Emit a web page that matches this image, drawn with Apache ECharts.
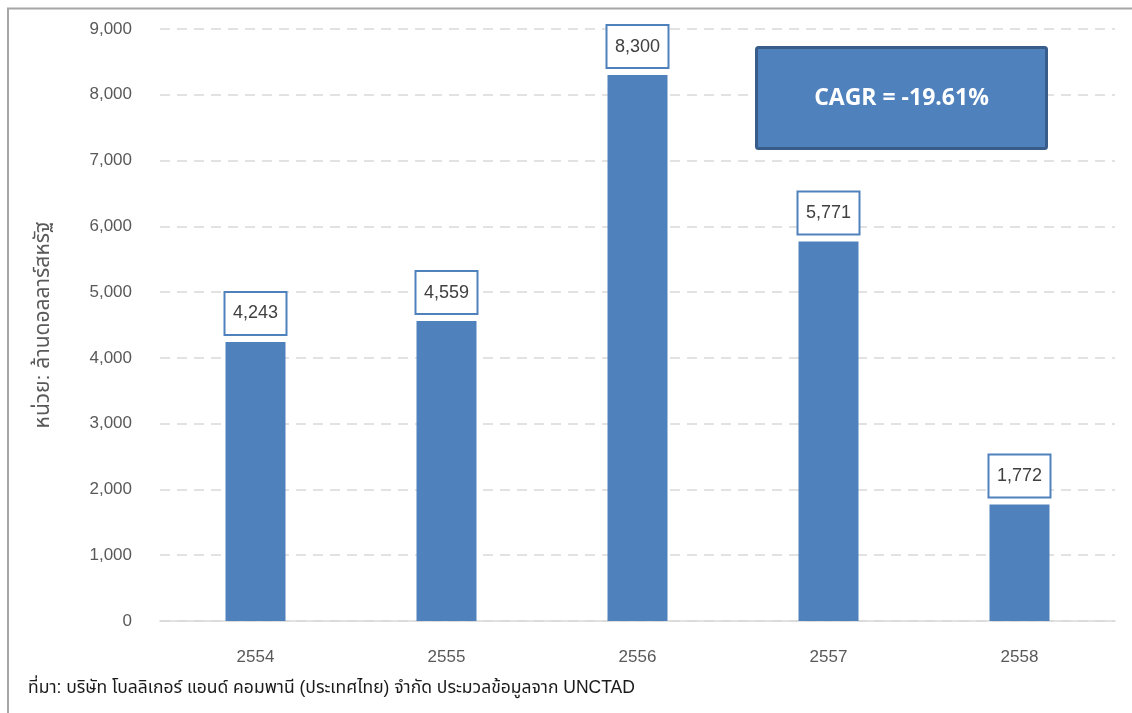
<!DOCTYPE html>
<html>
<head>
<meta charset="utf-8">
<script src="https://cdn.jsdelivr.net/npm/echarts@6/dist/echarts.min.js"></script>
<style>
  html, body { margin: 0; padding: 0; background: #fff; }
  #chart { width: 1132px; height: 713px; }
</style>
</head>
<body>
<div id="chart"></div>
<script>
// FDI values, million US dollars, Thai Buddhist-era years
const years = ['2554', '2555', '2556', '2557', '2558'];
const values = [4243, 4559, 8300, 5771, 1772];
const yTicks = { min: 0, max: 9000, interval: 1000 };
const axisTitle = 'หน่วย: ล้านดอลลาร์สหรัฐ';
const sourceNote = 'ที่มา: บริษัท โบลลิเกอร์ แอนด์ คอมพานี (ประเทศไทย) จำกัด ประมวลข้อมูลจาก UNCTAD';
const cagrText = 'CAGR = -19.61%';

const FONT = '"Liberation Sans", Arial, "Noto Sans Thai", "Noto Sans", sans-serif';
const chart = echarts.init(document.getElementById('chart'));

chart.setOption({
  backgroundColor: '#ffffff',
  animation: false,
  grid: { left: 160, right: 17, top: 29, bottom: 92, containLabel: false, outerBoundsMode: 'none' },
  xAxis: {
    type: 'category',
    data: years,
    axisTick: { show: false },
    axisLine: { lineStyle: { color: '#D9D9D9', width: 1.5 } },
    axisLabel: { color: '#595959', fontSize: 17, fontFamily: FONT, margin: 28 }
  },
  yAxis: {
    type: 'value',
    min: yTicks.min, max: yTicks.max, interval: yTicks.interval,
    name: axisTitle,
    nameLocation: 'middle',
    nameGap: 106,
    nameTextStyle: { color: '#595959', fontSize: 21, fontFamily: FONT },
    axisLine: { show: false },
    axisTick: { show: false },
    axisLabel: {
      color: '#595959', fontSize: 17, fontFamily: FONT, margin: 28,
      formatter: v => v.toLocaleString('en-US')
    },
    splitLine: { lineStyle: { color: '#D9D9D9', width: 1.5, type: [10, 7] } }
  },
  series: [{
    type: 'bar',
    data: values,
    barWidth: 60,
    itemStyle: { color: '#4F81BD' },
    label: {
      show: true,
      position: 'top',
      distance: 8,
      formatter: p => p.value.toLocaleString('en-US'),
      color: '#404040',
      fontSize: 18,
      fontFamily: FONT,
      backgroundColor: '#ffffff',
      borderColor: '#4F81BD',
      borderWidth: 2,
      width: 56,
      align: 'center',
      lineHeight: 21,
      padding: [10, 2, 10, 2]
    }
  }],
  graphic: [
    {
      type: 'polyline',
      z: 100,
      shape: { points: [[8, 713], [8, 8.5], [1132, 8.5]] },
      style: { stroke: '#A6A6A6', lineWidth: 2, fill: null },
      silent: true
    },
    {
      type: 'group',
      z: 100,
      left: 755, top: 46,
      children: [
        {
          type: 'rect',
          z: 100,
          shape: { x: 0, y: 0, width: 290, height: 101, r: 2 },
          style: { fill: '#4F81BD', stroke: '#385D8A', lineWidth: 3 }
        },
        {
          type: 'text',
          z: 101,
          x: 145, y: 51,
          style: {
            text: cagrText,
            fill: '#ffffff',
            font: 'bold 23px "Open Sans", "Liberation Sans", sans-serif',
            align: 'center',
            verticalAlign: 'middle'
          }
        }
      ]
    },
    {
      type: 'text',
      z: 100,
      left: 28, top: 679,
      style: {
        text: sourceNote,
        fill: '#1a1a1a',
        font: '17.5px ' + FONT
      }
    }
  ]
});
</script>
</body>
</html>
